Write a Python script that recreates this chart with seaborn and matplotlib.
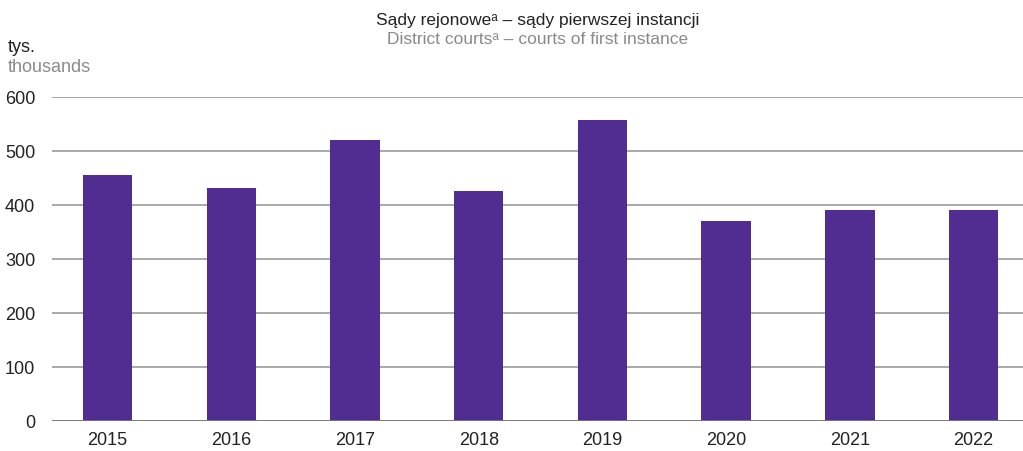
import numpy as np
import pandas as pd
import matplotlib.pyplot as plt
import seaborn as sns

years = ["2015", "2016", "2017", "2018", "2019", "2020", "2021", "2022"]
values = [455, 431, 520, 425, 557, 370, 390, 390]

df = pd.DataFrame({"year": years, "value": values})

sns.set_style("white")
plt.rcParams["font.family"] = ["Liberation Sans", "DejaVu Sans"]

fig = plt.figure(figsize=(10.23, 4.51), dpi=100)
ax = fig.add_axes([52 / 1023, 1 - 421 / 451, 1 - 52 / 1023, (421 - 97) / 451])

sns.barplot(data=df, x="year", y="value", color="#512D91", width=0.4,
            saturation=1, linewidth=0, ax=ax, zorder=3)

ax.set_ylim(0, 600)
ax.set_xlim(-0.45, 7.4)
ax.set_yticks(range(0, 601, 100))
ax.yaxis.grid(True, color="#9a9a9a", linewidth=1.2, zorder=0)
ax.axhline(0, color="#777777", linewidth=2, zorder=4)
for s in ax.spines.values():
    s.set_visible(False)
ax.set_xlabel("")
ax.set_ylabel("")
ax.tick_params(axis="both", length=0, labelsize=13, colors="#222222")
ax.tick_params(axis="y", pad=12)
ax.tick_params(axis="x", pad=8)

cx = (52 + 1023) / 2 / 1023
fig.text(cx, 0.955, "Sądy rejonoweᵃ – sądy pierwszej instancji",
         ha="center", va="center", fontsize=12.5, color="#222222")
fig.text(cx, 0.913, "District courtsᵃ – courts of first instance",
         ha="center", va="center", fontsize=12.5, color="#8a8a8a")
fig.text(8 / 1023, 1 - 47 / 451, "tys.", ha="left", va="center", fontsize=13, color="#222222")
fig.text(8 / 1023, 1 - 67 / 451, "thousands", ha="left", va="center", fontsize=13, color="#8a8a8a")

fig.savefig("out.png", dpi=100)
